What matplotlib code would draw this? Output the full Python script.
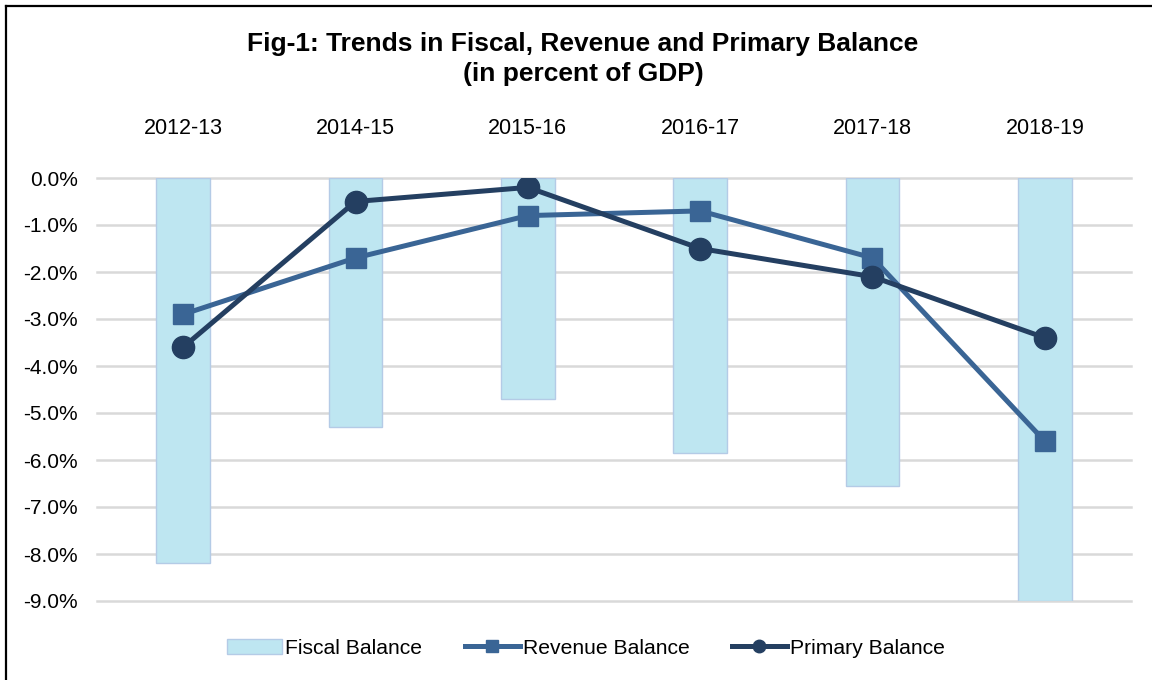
import matplotlib
matplotlib.use("Agg")
import matplotlib.pyplot as plt
from matplotlib.lines import Line2D
import numpy as np

categories = ["2012-13", "2014-15", "2015-16", "2016-17", "2017-18", "2018-19"]
fiscal_balance = [-8.2, -5.3, -4.7, -5.85, -6.55, -9.0]
revenue_balance = [-2.9, -1.7, -0.8, -0.7, -1.7, -5.6]
primary_balance = [-3.6, -0.5, -0.2, -1.5, -2.1, -3.4]
y_ticks = [0, -1, -2, -3, -4, -5, -6, -7, -8, -9]

plt.rcParams['font.family'] = ['Liberation Sans', 'DejaVu Sans']

W, H = 1152, 680
fig = plt.figure(figsize=(W/100, H/100), dpi=100)
ax = fig.add_axes([97/W, 1-601/H, (1131-97)/W, (601-178)/H])

x = np.arange(len(categories))
ax.bar(x, fiscal_balance, width=0.31, color="#BEE6F1", edgecolor="#B4CBE6", linewidth=1, zorder=2,
       label="Fiscal Balance")
ax.plot(x, revenue_balance, color="#3A6595", lw=3.6, marker="s", markersize=15, zorder=3,
        label="Revenue Balance")
ax.plot(x, primary_balance, color="#243F61", lw=3.6, marker="o", markersize=16, zorder=4,
        label="Primary Balance")

ax.set_xlim(-0.5, len(categories)-0.5)
ax.set_ylim(-9, 0)
ax.set_yticks(y_ticks)
ax.set_yticklabels([f"{v:.1f}%" for v in y_ticks], fontsize=15)
ax.yaxis.grid(True, color="#D9D9D9", lw=1.8, zorder=0)
for gl in ax.get_ygridlines():
    gl.set_clip_on(False)
ax.set_axisbelow(True)
ax.xaxis.tick_top()
ax.set_xticks(x)
ax.set_xticklabels(categories, fontsize=15.5)
ax.tick_params(axis='both', length=0)
ax.tick_params(axis='x', pad=28)
ax.tick_params(axis='y', pad=14)
for s in ax.spines.values():
    s.set_visible(False)

fig.text(583/W, 1-44/H, "Fig-1: Trends in Fiscal, Revenue and Primary Balance",
         ha="center", va="center", fontsize=19, fontweight="bold")
fig.text(583/W, 1-74/H, "(in percent of GDP)",
         ha="center", va="center", fontsize=19, fontweight="bold")

handles = [
    plt.Rectangle((0, 0), 1, 1, facecolor="#BEE6F1", edgecolor="#B4CBE6"),
    Line2D([], [], color="#3A6595", lw=3.6, marker="s", markersize=9),
    Line2D([], [], color="#243F61", lw=3.6, marker="o", markersize=9),
]
fig.legend(handles, ["Fiscal Balance", "Revenue Balance", "Primary Balance"],
           loc="center", bbox_to_anchor=(586/W, 1-648/H), ncol=3, frameon=False,
           fontsize=15.2, handlelength=2.6, handletextpad=0.15, columnspacing=2.0)

# frame border (top and left visible)
fig.add_artist(Line2D([6/W, 6/W], [0, 1-6/H], transform=fig.transFigure, color="black", lw=1.6))
fig.add_artist(Line2D([6/W, 1], [1-6/H, 1-6/H], transform=fig.transFigure, color="black", lw=1.6))

fig.savefig("out.png", dpi=100)
